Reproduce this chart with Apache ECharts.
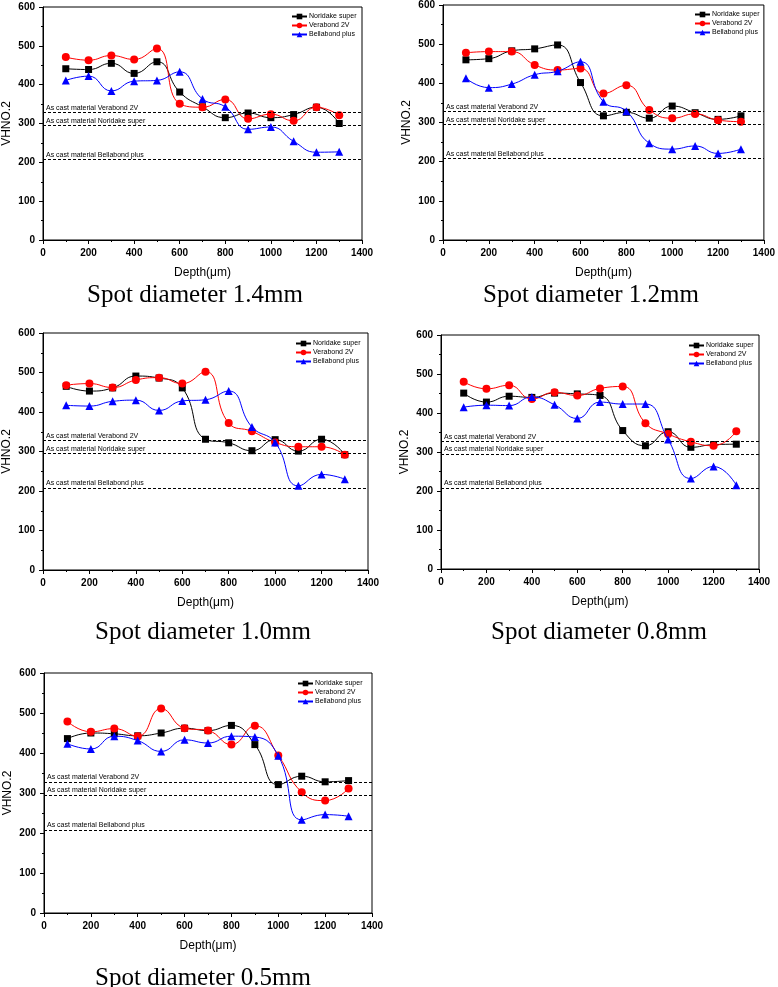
<!DOCTYPE html>
<html>
<head>
<meta charset="utf-8">
<script src="https://cdn.jsdelivr.net/npm/echarts@6/dist/echarts.min.js"></script>
<style>html,body{margin:0;padding:0;background:#fff;}#c{width:778px;height:987px;}</style>
</head>
<body>
<div id="c"></div>
<script>
// ---- data ----
const depth = [100, 200, 300, 400, 500, 600, 700, 800, 900, 1000, 1100, 1200, 1300];
const seriesNames = ['Noridake super', 'Verabond 2V', 'Bellabond plus'];
const panelTitles = ['Spot diameter 1.4mm', 'Spot diameter 1.2mm', 'Spot diameter 1.0mm', 'Spot diameter 0.8mm', 'Spot diameter 0.5mm'];
const xTicks = [0, 200, 400, 600, 800, 1000, 1200, 1400];
const yTicks = [0, 100, 200, 300, 400, 500, 600];

const nor14 = [441, 439, 455, 429, 459, 381, 343, 315, 327, 315, 323, 342, 300];
const ver14 = [471, 463, 475, 465, 493, 351, 342, 362, 312, 324, 307, 342, 321];
const bel14 = [411, 422, 384, 409, 411, 433, 363, 343, 285, 291, 254, 226, 227];

const nor12 = [460, 463, 483, 488, 498, 402, 317, 326, 311, 342, 325, 308, 317];
const ver12 = [478, 481, 481, 447, 434, 438, 374, 395, 332, 311, 322, 306, 302];
const bel12 = [413, 389, 398, 422, 431, 455, 353, 329, 247, 232, 240, 221, 232];

const nor10 = [465, 453, 461, 491, 486, 461, 331, 322, 302, 330, 301, 331, 292];
const ver10 = [468, 472, 462, 481, 487, 472, 502, 372, 351, 323, 312, 312, 292];
const bel10 = [417, 415, 427, 430, 404, 428, 431, 453, 362, 323, 213, 242, 230];

const nor08 = [451, 428, 443, 440, 451, 449, 445, 355, 316, 352, 312, 319, 320];
const ver08 = [480, 462, 471, 436, 453, 445, 463, 468, 374, 346, 326, 316, 353];
const bel08 = [415, 420, 419, 441, 421, 386, 428, 423, 423, 332, 232, 263, 215];

const nor05 = [436, 450, 448, 443, 450, 462, 456, 469, 421, 321, 342, 328, 331];
const ver05 = [479, 453, 461, 442, 511, 462, 456, 421, 468, 394, 302, 281, 311];
const bel05 = [423, 410, 442, 431, 404, 433, 425, 442, 440, 393, 233, 246, 242];

const refValues = [328, 295, 208];
const refLabels = ['As cast material Verabond 2V', 'As cast material Noridake super', 'As cast material Bellabond plus'];

const panelData = [
  [nor14, ver14, bel14],
  [nor12, ver12, bel12],
  [nor10, ver10, bel10],
  [nor08, ver08, bel08],
  [nor05, ver05, bel05]
];

// ---- layout ----
const grids = [
  {left: 42, top: 7, width: 320, height: 233},
  {left: 443, top: 5, width: 324, height: 235},
  {left: 43, top: 333, width: 325, height: 237},
  {left: 441, top: 335, width: 318, height: 234},
  {left: 44, top: 673, width: 328, height: 240}
];
const titlePos = [[195, 295], [591, 295], [203, 632], [599, 632], [203, 978]];
const legendPos = [[291, 13], [694, 11], [295, 340], [688, 342], [297, 680]];
const colors = ['#000000', '#ff0000', '#0000ff'];
const symbols = ['rect', 'circle', 'triangle'];
const symbolSizes = [7, 8, 8];

const labelFont = 'Liberation Sans, Arial, sans-serif';

const option = {
  animation: false,
  backgroundColor: '#fff',
  grid: grids.map(g => Object.assign({show: true, borderColor: '#000', borderWidth: 1, backgroundColor: 'transparent'}, g)),
  xAxis: grids.map((g, i) => ({
    type: 'value', gridIndex: i, min: xTicks[0], max: xTicks[xTicks.length - 1], interval: 200,
    name: 'Depth(\u03bcm)', nameLocation: 'middle', nameGap: 27,
    nameTextStyle: {fontSize: 12, fontFamily: labelFont, color: '#000'},
    axisLine: {show: true, lineStyle: {color: '#000', width: 1}},
    axisTick: {show: true, inside: false, length: 4, lineStyle: {color: '#000'}},
    minorTick: {show: true, splitNumber: 2, length: 2, lineStyle: {color: '#000'}},
    splitLine: {show: false},
    axisLabel: {fontSize: 10, fontWeight: 'bold', fontFamily: labelFont, color: '#000', margin: 8, formatter: v => String(v)}
  })),
  yAxis: grids.map((g, i) => ({
    type: 'value', gridIndex: i, min: yTicks[0], max: yTicks[yTicks.length - 1], interval: 100,
    name: 'VHNO.2', nameLocation: 'middle', nameGap: 30,
    nameTextStyle: {fontSize: 12, fontFamily: labelFont, color: '#000'},
    axisLine: {show: true, lineStyle: {color: '#000', width: 1}},
    axisTick: {show: true, inside: false, length: 4, lineStyle: {color: '#000'}},
    minorTick: {show: true, splitNumber: 2, length: 2, lineStyle: {color: '#000'}},
    splitLine: {show: false},
    axisLabel: {fontSize: 10, fontWeight: 'bold', fontFamily: labelFont, color: '#000', margin: 8, formatter: v => String(v)}
  })),
  legend: legendPos.map(p => ({
    data: seriesNames, orient: 'vertical', left: p[0], top: p[1], padding: 0,
    itemWidth: 15, itemHeight: 7, itemGap: 2, selectedMode: false,
    textStyle: {fontSize: 7, fontFamily: labelFont, color: '#000', padding: [0, 0, 0, -3]}
  })),
  series: [],
  graphic: titlePos.map((p, i) => ({
    type: 'text', x: p[0], y: p[1],
    style: {text: panelTitles[i], font: '25px "Liberation Serif", serif', fill: '#000', textAlign: 'center', textVerticalAlign: 'middle'}
  }))
};

panelData.forEach((arrs, pi) => {
  arrs.forEach((vals, si) => {
    const s = {
      name: seriesNames[si], type: 'line', xAxisIndex: pi, yAxisIndex: pi,
      data: depth.map((d, k) => [d, vals[k]]),
      smooth: 0.5, symbol: symbols[si], symbolSize: symbolSizes[si], showAllSymbol: true,
      lineStyle: {color: colors[si], width: 1},
      itemStyle: {color: colors[si]},
      z: 3 + si
    };
    if (si === 0) {
      s.markLine = {
        silent: true, symbol: ['none', 'none'], animation: false,
        lineStyle: {color: '#000', type: [3, 2], width: 1},
        label: {show: true, position: 'insideStartTop', distance: [3, 1], fontSize: 7, fontFamily: labelFont, color: '#000'},
        data: refValues.map((v, k) => ({yAxis: v, label: {formatter: refLabels[k]}}))
      };
    }
    option.series.push(s);
  });
});

const chart = echarts.init(document.getElementById('c'), null, {renderer: 'canvas'});
chart.setOption(option);
</script>
</body>
</html>
